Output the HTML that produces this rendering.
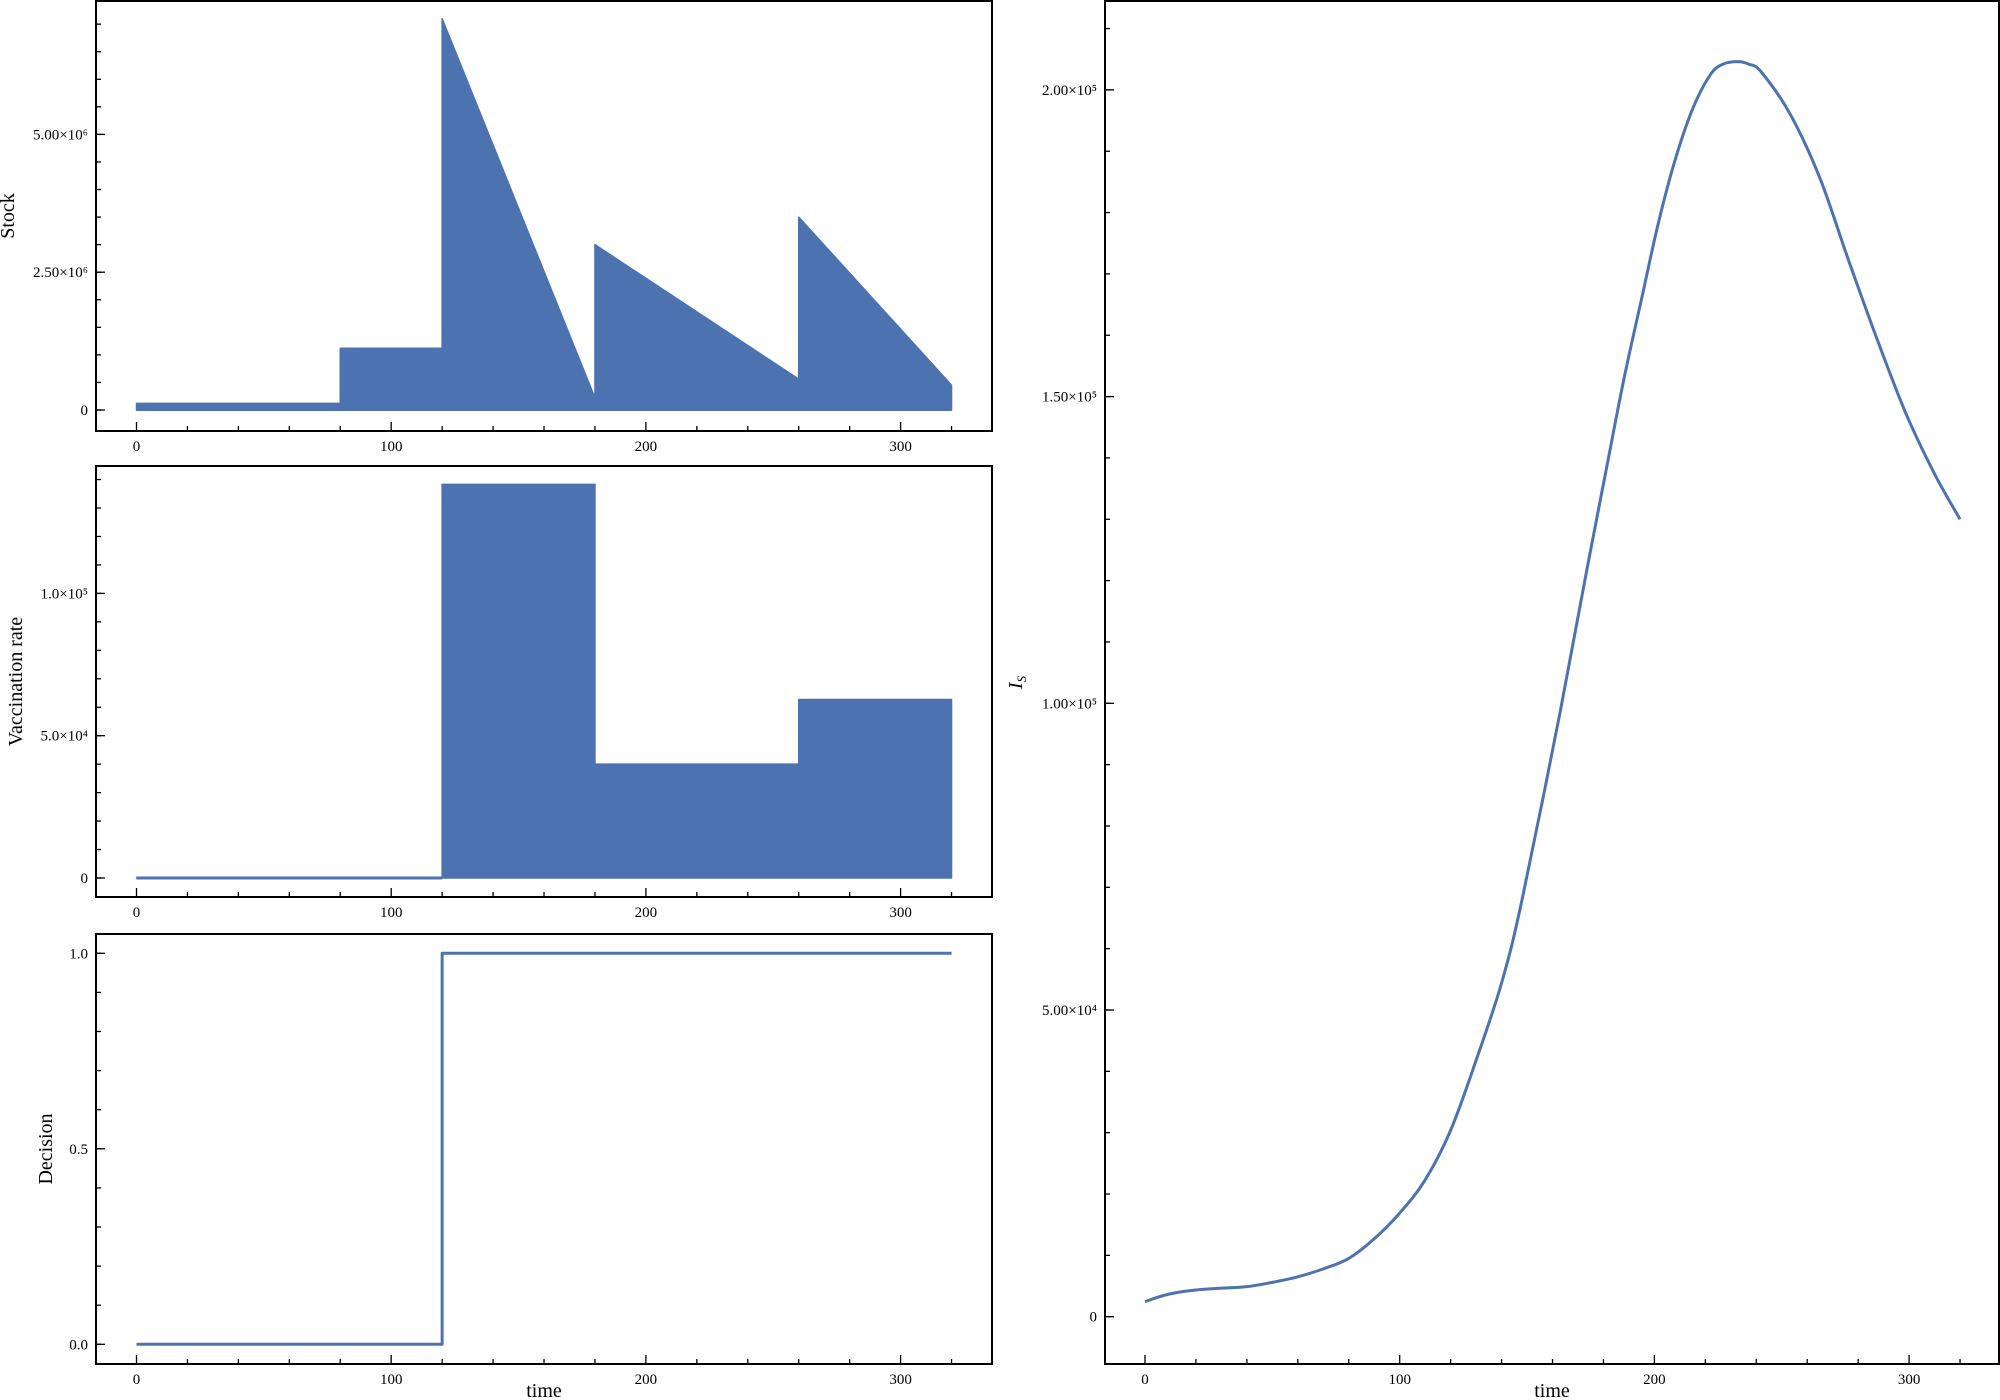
<!DOCTYPE html>
<html><head><meta charset="utf-8"><style>
html,body{margin:0;padding:0;background:#fff}
svg{display:block}
text{font-family:"Liberation Serif","DejaVu Serif",serif;fill:#000}
</style></head><body>
<svg id="fig" width="2000" height="1400" viewBox="0 0 2000 1400" xmlns="http://www.w3.org/2000/svg"></svg>
<script>
// ---- data ----
const stockT = [0, 80, 80, 120, 120, 180, 180, 260, 260, 320];
const stockV = [0.12e6, 0.12e6, 1.12e6, 1.12e6, 7.1e6, 0.22e6, 3.0e6, 0.56e6, 3.5e6, 0.45e6];
const vaccT = [0, 120, 120, 180, 180, 260, 260, 320];
const vaccV = [0, 0, 1.383e5, 1.383e5, 4.0e4, 4.0e4, 6.27e4, 6.27e4];
const decT = [0, 120, 120, 320];
const decV = [0, 0, 1, 1];
const isT = [0, 6, 12, 20, 30, 40, 50, 60, 70, 80, 90, 100, 110, 120, 130, 140, 148, 163, 174, 181, 188, 195, 201.5, 208, 215, 222, 227, 232.7, 237, 242, 253.5, 265, 276, 287.4, 298.7, 310, 320];
const isV = [2450, 3300, 3900, 4350, 4650, 4900, 5600, 6500, 7800, 9500, 12700, 16900, 22300, 30400, 41800, 54400, 67900, 98600, 122900, 137900, 152800, 166000, 178200, 188400, 196900, 202500, 204200, 204600, 204200, 202900, 195900, 185600, 172500, 159400, 147300, 137400, 130000];
const xTicks = [0, 100, 200, 300];
const stockTicks = [0, 2.5e6, 5e6];
const stockTickLabels = ["0", "2.50×10⁶", "5.00×10⁶"];
const vaccTicks = [0, 5e4, 1e5];
const vaccTickLabels = ["0", "5.0×10⁴", "1.0×10⁵"];
const decTicks = [0, 0.5, 1.0];
const decTickLabels = ["0.0", "0.5", "1.0"];
const isTicks = [0, 5e4, 1e5, 1.5e5, 2e5];
const isTickLabels = ["0", "5.00×10⁴", "1.00×10⁵", "1.50×10⁵", "2.00×10⁵"];

const NS = "http://www.w3.org/2000/svg";
const svg = document.getElementById('fig');
const COLOR = "#4c72b0";
function mk(tag, attrs, parent) {
  const e = document.createElementNS(NS, tag);
  for (const k in attrs) e.setAttribute(k, attrs[k]);
  (parent || svg).appendChild(e);
  return e;
}
function makeX(x0) { return t => x0 + t * 2.547; }
function makeY(zeroPx, pxPerUnit) { return v => zeroPx - v * pxPerUnit; }

function axes(name, L, T, R, B, sx, sy, yTicks, yLabels, yMinorStep, yMin, yMax, ylabel, ylabelX, showTime, italic) {
  const g = mk('g', {});
  
  
  for (let t = 0; t <= 320; t += 20) {
    const major = t % 100 === 0;
    const tk = mk('line', {x1: sx(t), x2: sx(t), y1: B, y2: B - (major ? 9 : 5), stroke: '#000', 'stroke-width': 1.3}, g);
    
    
  }
  xTicks.forEach(t => {
    const tx = mk('text', {x: sx(t), y: B + 20, 'text-anchor': 'middle', 'font-size': 15}, g);
    tx.textContent = String(t);
    
    
  });
  for (let v = yMin; v <= yMax + 1e-9; v += yMinorStep) {
    const y = sy(v);
    if (y < T + 2 || y > B - 2) continue;
    const tk = mk('line', {x1: L, x2: L + 5, y1: y, y2: y, stroke: '#000', 'stroke-width': 1.3}, g);
    
    
  }
  yTicks.forEach((v, i) => {
    const y = sy(v);
    const tk = mk('line', {x1: L, x2: L + 9, y1: y, y2: y, stroke: '#000', 'stroke-width': 1.3}, g);
    
    
    const tx = mk('text', {x: L - 8, y: y + 5, 'text-anchor': 'end', 'font-size': 15}, g);
    tx.textContent = yLabels[i];
    
    
  });
  const fr = mk('rect', {x: L, y: T, width: R - L, height: B - T, fill: 'none', stroke: '#000', 'stroke-width': 2}, g);
  
  
  const cy = (T + B) / 2;
  const yl = mk('text', {x: ylabelX, y: cy, 'text-anchor': 'middle', 'font-size': 20, transform: `rotate(-90 ${ylabelX} ${cy})`, 'font-style': italic ? 'italic' : 'normal'}, g);
  if (italic) {
    yl.textContent = 'I';
    const sub = mk('tspan', {'font-size': 13, dy: 4}, yl);
    sub.textContent = 'S';
  } else yl.textContent = ylabel;
  
  
  if (showTime) {
    const xl = mk('text', {x: (L + R) / 2, y: 1397, 'text-anchor': 'middle', 'font-size': 20}, g);
    xl.textContent = 'time';
    
    
  }
}

function fillArea(name, T, V, sx, sy) {
  let d = `M${sx(T[0])},${sy(0)}`;
  T.forEach((t, i) => d += ` L${sx(t)},${sy(V[i])}`);
  d += ` L${sx(T[T.length - 1])},${sy(0)} Z`;
  const p = mk('path', {d: d, fill: COLOR, stroke: COLOR, 'stroke-width': 1.5, 'stroke-linejoin': 'round'});
  
  
}
function line(name, T, V, sx, sy, w) {
  const pts = T.map((t, i) => `${sx(t)},${sy(V[i])}`).join(' ');
  const p = mk('polyline', {points: pts, fill: 'none', stroke: COLOR, 'stroke-width': w, 'stroke-linejoin': 'round'});
  
  
}
function smoothLine(name, T, V, sx, sy, w) {
  const P = T.map((t, i) => [sx(t), sy(V[i])]);
  let d = `M${P[0][0]},${P[0][1]}`;
  for (let i = 0; i < P.length - 1; i++) {
    const p0 = P[Math.max(0, i - 1)], p1 = P[i], p2 = P[i + 1], p3 = P[Math.min(P.length - 1, i + 2)];
    const c1 = [p1[0] + (p2[0] - p0[0]) / 6, p1[1] + (p2[1] - p0[1]) / 6];
    const c2 = [p2[0] - (p3[0] - p1[0]) / 6, p2[1] - (p3[1] - p1[1]) / 6];
    d += ` C${c1[0]},${c1[1]} ${c2[0]},${c2[1]} ${p2[0]},${p2[1]}`;
  }
  const p = mk('path', {d: d, fill: 'none', stroke: COLOR, 'stroke-width': w, 'stroke-linejoin': 'round'});
  
  
}

const sxL = makeX(136.5);
const syS = makeY(410, 137.8 / 2.5e6);
fillArea('stock-area', stockT, stockV, sxL, syS);
line('stock-baseline', [0, 320], [0, 0], sxL, syS, 2);
axes('stock-panel', 96, 1, 992, 431, sxL, syS, stockTicks, stockTickLabels, 0.5e6, 0, 7.5e6, 'Stock', 14, false, false);

const syV = makeY(878, 142.3 / 5e4);
fillArea('vaccination-area', vaccT, vaccV, sxL, syV);
line('vaccination-line', [0, 120], [0, 0], sxL, syV, 3);
axes('vaccination-panel', 96, 466, 992, 897, sxL, syV, vaccTicks, vaccTickLabels, 1e4, 0, 1.4e5, 'Vaccination rate', 22, false, false);

const syD = makeY(1344.3, 391);
line('decision-line', decT, decV, sxL, syD, 3);
axes('decision-panel', 96, 934, 992, 1364, sxL, syD, decTicks, decTickLabels, 0.1, 0, 1.0, 'Decision', 52, true, false);

const sxR = makeX(1145);
const syI = makeY(1316.7, 306.7 / 5e4);
smoothLine('is-curve', isT, isV, sxR, syI, 3);
axes('is-panel', 1105, 1, 1999, 1364, sxR, syI, isTicks, isTickLabels, 1e4, 0, 2.1e5, 'I_S', 1022, true, true);
</script>
</body></html>
